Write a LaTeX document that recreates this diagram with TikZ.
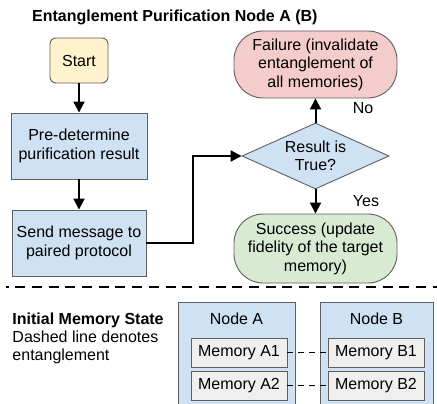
\documentclass[tikz,border=0pt]{standalone}
\usepackage{fontspec}
\setmainfont{Liberation Sans}
\usetikzlibrary{shapes.geometric,arrows.meta}
\definecolor{startfill}{HTML}{FFF2CC}
\definecolor{bluefill}{HTML}{CFE2F3}
\definecolor{redfill}{HTML}{F4CCCC}
\definecolor{greenfill}{HTML}{D9EAD3}
\definecolor{grayfill}{HTML}{EFEFEF}
\definecolor{edgegray}{HTML}{5F5F5F}
\begin{document}
\begin{tikzpicture}[x=1pt,y=-1pt,
  every node/.style={font=\fontsize{16}{18.4}\selectfont, inner sep=0pt},
  box/.style={draw=edgegray, line width=0.9pt, align=center},
  flow/.style={line width=2pt, -{Triangle[length=11pt,width=11pt]}},
  memlink/.style={line width=1.3pt, dash pattern=on 6pt off 5pt},
  separator/.style={line width=2pt, dash pattern=on 10pt off 6.7pt, dash phase=7.5pt},
  membox/.style={box, fill=grayfill, minimum width=96pt, minimum height=29pt},
  holder/.style={box, fill=bluefill, anchor=north west}]
\clip (0,0) rectangle (437,404);
\fill[white] (0,0) rectangle (437,404);

% title
\node[anchor=base west, font=\fontsize{16}{18.4}\selectfont\bfseries] (title) at (32,21.5)
  {Entanglement Purification Node A (B)};

% flowchart on the left
\node[box, fill=startfill, rounded corners=6pt, minimum width=58pt, minimum height=45pt]
  (start) at (79,60.5) {Start};
\node[box, fill=bluefill, minimum width=136pt, minimum height=66pt]
  (pre) at (79,146) {Pre-determine\\purification result};
\node[box, fill=bluefill, minimum width=134pt, minimum height=66pt]
  (send) at (79,243) {Send message to\\paired protocol};

% decision and outcomes
\node[diamond, draw=edgegray, line width=0.9pt, fill=bluefill, aspect=2.23,
  minimum width=147pt, minimum height=66pt, align=center]
  (dia) at (315.5,156) {Result is\\True?};
\node[box, fill=redfill, rounded corners=29pt, minimum width=163pt, minimum height=67pt]
  (fail) at (315.5,64.5) {Failure (invalidate\\entanglement of\\all memories)};
\node[box, fill=greenfill, rounded corners=29pt, minimum width=163pt, minimum height=69pt]
  (succ) at (315.5,248.5) {Success (update\\fidelity of the target\\memory)};

\node (no) at (363,108) {No};
\node (yes) at (366,201) {Yes};

% connectors
\coordinate (bend) at (193,156);
\draw[flow] (start) -- (pre);
\draw[flow] (pre) -- (send);
\draw[flow] (send.east) -| (bend) -- (dia.west);
\draw[flow] (dia.north) -- (fail.south);
\draw[flow] (dia.south) -- (succ.north);

% separator between flowchart and memory state
\coordinate (sepL) at (6,287);
\coordinate (sepR) at (440,287);
\draw[separator] (sepL) -- (sepR);

% initial memory state
\node[anchor=north west, align=left] (legend) at (12.3,312.4)
  {\textbf{Initial Memory State}\\Dashed line denotes\\entanglement};

\node[holder, minimum width=117pt, minimum height=120pt] (nodeA) at (178,302) {};
\node[holder, minimum width=113pt, minimum height=120pt] (nodeB) at (320,302) {};
\node[anchor=base] (labelA) at (236.5,324) {Node A};
\node[anchor=base] (labelB) at (376.5,324) {Node B};

\node[membox] (memA1) at (239,352.5) {Memory A1};
\node[membox] (memA2) at (239,385.5) {Memory A2};
\node[membox] (memB1) at (376,352.5) {Memory B1};
\node[membox] (memB2) at (376,385.5) {Memory B2};

\draw[memlink] (memA1.east) -- (memB1.west);
\draw[memlink] (memA2.east) -- (memB2.west);
\end{tikzpicture}
\end{document}
